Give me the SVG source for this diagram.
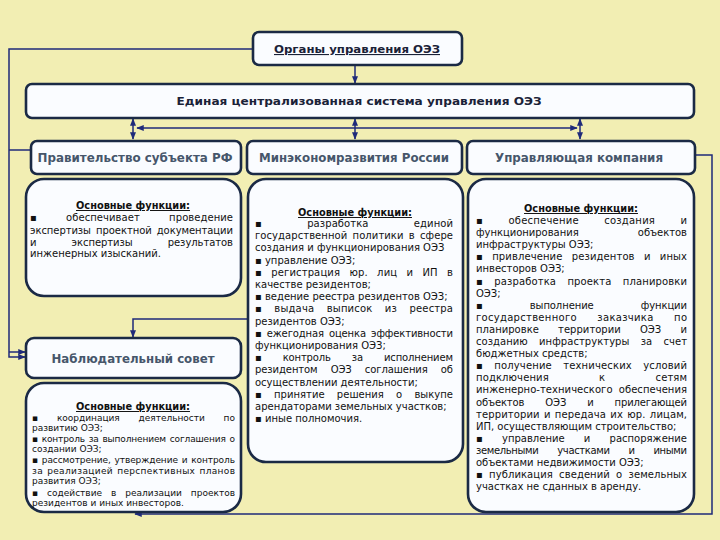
<svg xmlns="http://www.w3.org/2000/svg" width="720" height="540" viewBox="0 0 720 540">
<style>
.box{fill:#FAFCFF;stroke:#1B2A45;stroke-width:2.6}
.t{font-family:"DejaVu Sans",sans-serif;font-size:10px;fill:#111}
.s{font-size:9px}
.fh{font-family:"DejaVu Sans",sans-serif;font-weight:bold;font-size:9.8px;fill:#111;text-anchor:middle;text-decoration:underline}
.hd{font-family:"DejaVu Sans",sans-serif;font-weight:bold;font-size:12px;fill:#46566B;text-anchor:middle}
.tp{font-family:"DejaVu Sans",sans-serif;font-weight:bold;font-size:11px;fill:#1A2238;text-anchor:middle}
.c{stroke:#1F2A7A;stroke-width:1.5;fill:none}
</style>
<defs>
<marker id="a" viewBox="0 0 10 10" refX="9" refY="5" markerWidth="5" markerHeight="5" orient="auto-start-reverse"><path d="M0,1 L10,5 L0,9 z" fill="#1F2A7A"/></marker>
</defs>
<rect width="720" height="540" fill="#F2EEB3"/>

<g id="connectors">
<path class="c" d="M253,49 H9 V357 H25" marker-end="url(#a)"/>
<path class="c" d="M9,352 H25" marker-end="url(#a)"/>
<path class="c" d="M9,150 H30"/>
<path class="c" d="M355,65 V83" marker-end="url(#a)"/>
<path class="c" d="M133,119 V139" marker-start="url(#a)" marker-end="url(#a)"/>
<path class="c" d="M355,119 V139" marker-start="url(#a)" marker-end="url(#a)"/>
<path class="c" d="M580,119 V139" marker-start="url(#a)" marker-end="url(#a)"/>
<path class="c" d="M137,128 H577" marker-start="url(#a)" marker-end="url(#a)"/>
<path class="c" d="M248,319 H133 V337" marker-end="url(#a)"/>
<path class="c" d="M695,155 H712 V514 H135" marker-end="url(#a)"/>
</g>

<g id="organy">
<rect class="box" x="253" y="32" width="209" height="33" rx="6"/>
<text class="tp" x="357" y="53" text-decoration="underline" textLength="166" lengthAdjust="spacingAndGlyphs">Органы управления ОЭЗ</text>
</g>

<g id="edinaya">
<rect class="box" x="26" y="84" width="668" height="34" rx="6"/>
<text class="tp" x="359" y="105" font-size="12" textLength="365" lengthAdjust="spacingAndGlyphs">Единая централизованная система управления ОЭЗ</text>
</g>

<g id="pravitelstvo">
<rect class="box" x="31" y="141" width="210" height="33" rx="6"/>
<text class="hd" x="135" y="162" textLength="195" lengthAdjust="spacingAndGlyphs">Правительство субъекта РФ</text>
</g>

<g id="minek">
<rect class="box" x="247" y="141" width="215" height="33" rx="6"/>
<text class="hd" x="354" y="162" textLength="190" lengthAdjust="spacingAndGlyphs">Минэкономразвития России</text>
</g>

<g id="uk">
<rect class="box" x="467" y="141" width="228" height="33" rx="6"/>
<text class="hd" x="579" y="162" textLength="168" lengthAdjust="spacingAndGlyphs">Управляющая компания</text>
</g>

<g id="prav-func">
<rect class="box" x="26" y="179" width="215" height="117" rx="18"/>
<text class="fh" x="133" y="209">Основные функции:</text>
<text class="t" x="30" y="221" textLength="203" lengthAdjust="spacing" word-spacing="26">▪ обеспечивает проведение</text>
<text class="t" x="30" y="234" textLength="203" lengthAdjust="spacing" word-spacing="2">экспертизы проектной документации</text>
<text class="t" x="30" y="246" textLength="203" lengthAdjust="spacing" word-spacing="32">и экспертизы результатов</text>
<text class="t" x="30" y="257">инженерных изысканий.</text>
</g>

<g id="minek-func">
<rect class="box" x="248" y="179" width="215" height="283" rx="18"/>
<text class="fh" x="355" y="216">Основные функции:</text>
<text class="t" x="255" y="227" textLength="198" lengthAdjust="spacing" word-spacing="42">▪ разработка единой</text>
<text class="t" x="255" y="239.2" textLength="198" lengthAdjust="spacing" word-spacing="2">государственной политики в сфере</text>
<text class="t" x="255" y="251.4">создания и функционирования ОЭЗ</text>
<text class="t" x="255" y="263.6">▪ управление ОЭЗ;</text>
<text class="t" x="255" y="275.8" textLength="198" lengthAdjust="spacing" word-spacing="6">▪ регистрация юр. лиц и ИП в</text>
<text class="t" x="255" y="288">качестве резидентов;</text>
<text class="t" x="255" y="300.2">▪ ведение реестра резидентов ОЭЗ;</text>
<text class="t" x="255" y="312.4" textLength="198" lengthAdjust="spacing" word-spacing="9">▪ выдача выписок из реестра</text>
<text class="t" x="255" y="324.6">резидентов ОЭЗ;</text>
<text class="t" x="255" y="336.8" textLength="198" lengthAdjust="spacing" word-spacing="2">▪ ежегодная оценка эффективности</text>
<text class="t" x="255" y="349">функционирования ОЭЗ;</text>
<text class="t" x="255" y="361.2" textLength="198" lengthAdjust="spacing" word-spacing="18">▪ контроль за исполнением</text>
<text class="t" x="255" y="373.4" textLength="198" lengthAdjust="spacing" word-spacing="10">резидентом ОЭЗ соглашения об</text>
<text class="t" x="255" y="385.6">осуществлении деятельности;</text>
<text class="t" x="255" y="397.8" textLength="198" lengthAdjust="spacing" word-spacing="9">▪ принятие решения о выкупе</text>
<text class="t" x="255" y="410">арендаторами земельных участков;</text>
<text class="t" x="255" y="422.2">▪ иные полномочия.</text>
</g>

<g id="uk-func">
<rect class="box" x="468" y="179" width="226" height="333" rx="18"/>
<text class="fh" x="581" y="212">Основные функции:</text>
<text class="t" x="476" y="224" textLength="211" lengthAdjust="spacing" word-spacing="22">▪ обеспечение создания и</text>
<text class="t" x="476" y="236.1" textLength="211" lengthAdjust="spacing" word-spacing="56">функционирования объектов</text>
<text class="t" x="476" y="248.2">инфраструктуры ОЭЗ;</text>
<text class="t" x="476" y="260.3" textLength="211" lengthAdjust="spacing" word-spacing="6">▪ привлечение резидентов и иных</text>
<text class="t" x="476" y="272.4">инвесторов ОЭЗ;</text>
<text class="t" x="476" y="284.5" textLength="211" lengthAdjust="spacing" word-spacing="8">▪ разработка проекта планировки</text>
<text class="t" x="476" y="296.6">ОЭЗ;</text>
<text class="t" x="476" y="308.7" textLength="211" lengthAdjust="spacing" word-spacing="44">▪ выполнение функции</text>
<text class="t" x="476" y="320.8" textLength="211" lengthAdjust="spacing" word-spacing="17">государственного заказчика по</text>
<text class="t" x="476" y="332.9" textLength="211" lengthAdjust="spacing" word-spacing="16">планировке территории ОЭЗ и</text>
<text class="t" x="476" y="345" textLength="211" lengthAdjust="spacing" word-spacing="8">созданию инфраструктуры за счет</text>
<text class="t" x="476" y="357.1">бюджетных средств;</text>
<text class="t" x="476" y="369.2" textLength="211" lengthAdjust="spacing" word-spacing="8">▪ получение технических условий</text>
<text class="t" x="476" y="381.3" textLength="211" lengthAdjust="spacing" word-spacing="47">подключения к сетям</text>
<text class="t" x="476" y="393.4" textLength="211" lengthAdjust="spacing" word-spacing="3">инженерно-технического обеспечения</text>
<text class="t" x="476" y="405.5" textLength="211" lengthAdjust="spacing" word-spacing="18">объектов ОЭЗ и прилегающей</text>
<text class="t" x="476" y="417.6" textLength="211" lengthAdjust="spacing" word-spacing="1">территории и передача их юр. лицам,</text>
<text class="t" x="476" y="429.7">ИП, осуществляющим строительство;</text>
<text class="t" x="476" y="441.8" textLength="211" lengthAdjust="spacing" word-spacing="16">▪ управление и распоряжение</text>
<text class="t" x="476" y="453.9" textLength="211" lengthAdjust="spacing" word-spacing="16">земельными участками и иными</text>
<text class="t" x="476" y="466">объектами недвижимости ОЭЗ;</text>
<text class="t" x="476" y="478.1" textLength="211" lengthAdjust="spacing" word-spacing="3">▪ публикация сведений о земельных</text>
<text class="t" x="476" y="490.2">участках не сданных в аренду.</text>
</g>

<g id="nabl">
<rect class="box" x="26" y="338" width="215" height="40" rx="8"/>
<text class="hd" x="133" y="363" font-size="13" textLength="163" lengthAdjust="spacingAndGlyphs">Наблюдательный совет</text>
</g>

<g id="nabl-func">
<rect class="box" x="26" y="383" width="215" height="129" rx="18"/>
<text class="fh" x="133" y="410" font-size="9.5">Основные функции:</text>
<text class="t s" x="32" y="420.5" textLength="203" lengthAdjust="spacing" word-spacing="16">▪ координация деятельности по</text>
<text class="t s" x="32" y="431">развитию ОЭЗ;</text>
<text class="t s" x="32" y="441.5" textLength="203" lengthAdjust="spacing" word-spacing="1">▪ контроль за выполнением соглашения о</text>
<text class="t s" x="32" y="452">создании ОЭЗ;</text>
<text class="t s" x="32" y="463" textLength="203" lengthAdjust="spacing" word-spacing="1">▪ рассмотрение, утверждение и контроль</text>
<text class="t s" x="32" y="473.5" textLength="203" lengthAdjust="spacing" word-spacing="1">за реализацией перспективных планов</text>
<text class="t s" x="32" y="484">развития ОЭЗ;</text>
<text class="t s" x="32" y="495.5" textLength="203" lengthAdjust="spacing" word-spacing="6">▪ содействие в реализации проектов</text>
<text class="t s" x="32" y="506">резидентов и иных инвесторов.</text>
</g>
</svg>
